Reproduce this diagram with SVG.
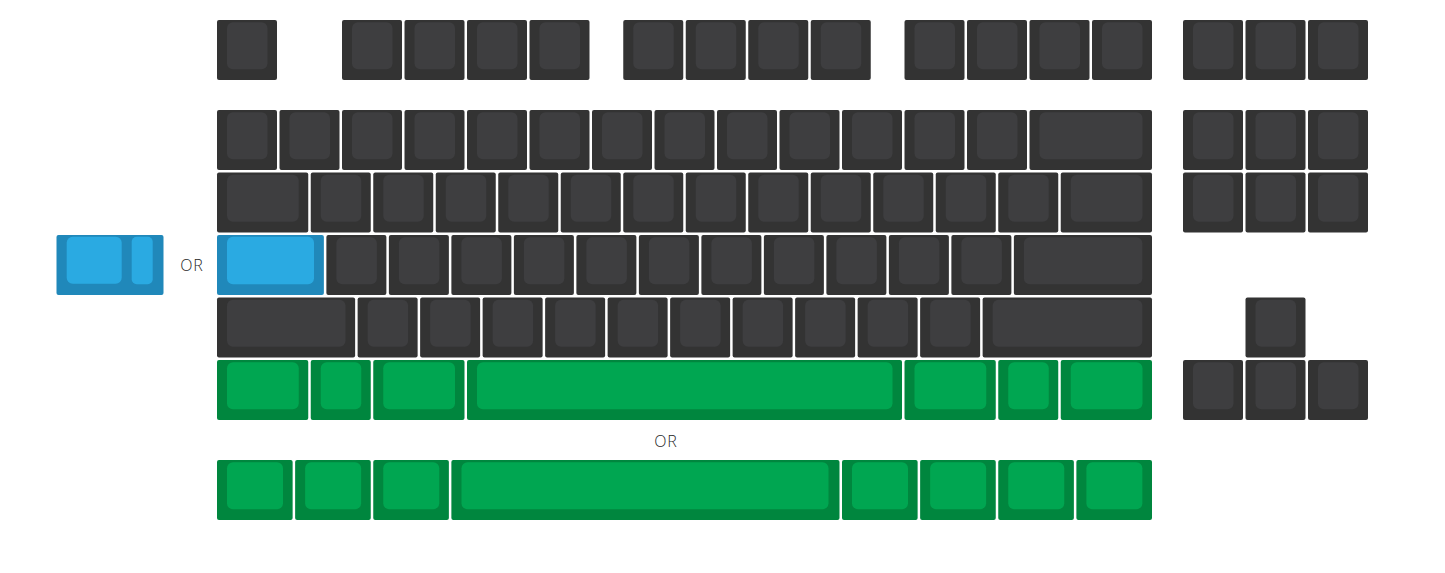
<svg xmlns="http://www.w3.org/2000/svg" width="1445" height="573" viewBox="0 0 1445 573">
<style>
.o{stroke:none}
.dk .o{fill:#333333}
.dk .i{fill:#3e3e40}
.bl .o{fill:#2088ba}
.bl .i{fill:#2aaae2}
.gr .o{fill:#00863e}
.gr .i{fill:#00a651}
.or{font-family:"Open Sans","Liberation Sans",sans-serif;font-weight:300;font-size:16px;fill:#1f1f1f;text-anchor:middle;letter-spacing:1px}
</style>
<rect width="1445" height="573" fill="#ffffff"/>
<g id="connectors"></g>

<!-- Function row -->
<g id="key-esc" class="dk"><rect class="o" x="217" y="20" width="60" height="60" rx="2"/><rect class="i" x="227" y="22.3" width="40.5" height="47" rx="6"/></g>
<g id="key-f1" class="dk"><rect class="o" x="342" y="20" width="60" height="60" rx="2"/><rect class="i" x="352" y="22.3" width="40.5" height="47" rx="6"/></g>
<g id="key-f2" class="dk"><rect class="o" x="404.5" y="20" width="60" height="60" rx="2"/><rect class="i" x="414.5" y="22.3" width="40.5" height="47" rx="6"/></g>
<g id="key-f3" class="dk"><rect class="o" x="467" y="20" width="60" height="60" rx="2"/><rect class="i" x="477" y="22.3" width="40.5" height="47" rx="6"/></g>
<g id="key-f4" class="dk"><rect class="o" x="529.5" y="20" width="60" height="60" rx="2"/><rect class="i" x="539.5" y="22.3" width="40.5" height="47" rx="6"/></g>
<g id="key-f5" class="dk"><rect class="o" x="623.25" y="20" width="60" height="60" rx="2"/><rect class="i" x="633.25" y="22.3" width="40.5" height="47" rx="6"/></g>
<g id="key-f6" class="dk"><rect class="o" x="685.75" y="20" width="60" height="60" rx="2"/><rect class="i" x="695.75" y="22.3" width="40.5" height="47" rx="6"/></g>
<g id="key-f7" class="dk"><rect class="o" x="748.25" y="20" width="60" height="60" rx="2"/><rect class="i" x="758.25" y="22.3" width="40.5" height="47" rx="6"/></g>
<g id="key-f8" class="dk"><rect class="o" x="810.75" y="20" width="60" height="60" rx="2"/><rect class="i" x="820.75" y="22.3" width="40.5" height="47" rx="6"/></g>
<g id="key-f9" class="dk"><rect class="o" x="904.5" y="20" width="60" height="60" rx="2"/><rect class="i" x="914.5" y="22.3" width="40.5" height="47" rx="6"/></g>
<g id="key-f10" class="dk"><rect class="o" x="967" y="20" width="60" height="60" rx="2"/><rect class="i" x="977" y="22.3" width="40.5" height="47" rx="6"/></g>
<g id="key-f11" class="dk"><rect class="o" x="1029.5" y="20" width="60" height="60" rx="2"/><rect class="i" x="1039.5" y="22.3" width="40.5" height="47" rx="6"/></g>
<g id="key-f12" class="dk"><rect class="o" x="1092" y="20" width="60" height="60" rx="2"/><rect class="i" x="1102" y="22.3" width="40.5" height="47" rx="6"/></g>
<g id="key-prtsc" class="dk"><rect class="o" x="1183" y="20" width="60" height="60" rx="2"/><rect class="i" x="1193" y="22.3" width="40.5" height="47" rx="6"/></g>
<g id="key-scrlk" class="dk"><rect class="o" x="1245.5" y="20" width="60" height="60" rx="2"/><rect class="i" x="1255.5" y="22.3" width="40.5" height="47" rx="6"/></g>
<g id="key-pause" class="dk"><rect class="o" x="1308" y="20" width="60" height="60" rx="2"/><rect class="i" x="1318" y="22.3" width="40.5" height="47" rx="6"/></g>

<!-- Number row -->
<g id="key-grave" class="dk"><rect class="o" x="217" y="110" width="60" height="60" rx="2"/><rect class="i" x="227" y="112.3" width="40.5" height="47" rx="6"/></g>
<g id="key-1" class="dk"><rect class="o" x="279.5" y="110" width="60" height="60" rx="2"/><rect class="i" x="289.5" y="112.3" width="40.5" height="47" rx="6"/></g>
<g id="key-2" class="dk"><rect class="o" x="342" y="110" width="60" height="60" rx="2"/><rect class="i" x="352" y="112.3" width="40.5" height="47" rx="6"/></g>
<g id="key-3" class="dk"><rect class="o" x="404.5" y="110" width="60" height="60" rx="2"/><rect class="i" x="414.5" y="112.3" width="40.5" height="47" rx="6"/></g>
<g id="key-4" class="dk"><rect class="o" x="467" y="110" width="60" height="60" rx="2"/><rect class="i" x="477" y="112.3" width="40.5" height="47" rx="6"/></g>
<g id="key-5" class="dk"><rect class="o" x="529.5" y="110" width="60" height="60" rx="2"/><rect class="i" x="539.5" y="112.3" width="40.5" height="47" rx="6"/></g>
<g id="key-6" class="dk"><rect class="o" x="592" y="110" width="60" height="60" rx="2"/><rect class="i" x="602" y="112.3" width="40.5" height="47" rx="6"/></g>
<g id="key-7" class="dk"><rect class="o" x="654.5" y="110" width="60" height="60" rx="2"/><rect class="i" x="664.5" y="112.3" width="40.5" height="47" rx="6"/></g>
<g id="key-8" class="dk"><rect class="o" x="717" y="110" width="60" height="60" rx="2"/><rect class="i" x="727" y="112.3" width="40.5" height="47" rx="6"/></g>
<g id="key-9" class="dk"><rect class="o" x="779.5" y="110" width="60" height="60" rx="2"/><rect class="i" x="789.5" y="112.3" width="40.5" height="47" rx="6"/></g>
<g id="key-0" class="dk"><rect class="o" x="842" y="110" width="60" height="60" rx="2"/><rect class="i" x="852" y="112.3" width="40.5" height="47" rx="6"/></g>
<g id="key-minus" class="dk"><rect class="o" x="904.5" y="110" width="60" height="60" rx="2"/><rect class="i" x="914.5" y="112.3" width="40.5" height="47" rx="6"/></g>
<g id="key-equal" class="dk"><rect class="o" x="967" y="110" width="60" height="60" rx="2"/><rect class="i" x="977" y="112.3" width="40.5" height="47" rx="6"/></g>
<g id="key-backspace" class="dk"><rect class="o" x="1029.5" y="110" width="122.5" height="60" rx="2"/><rect class="i" x="1039.5" y="112.3" width="103" height="47" rx="6"/></g>
<g id="key-ins" class="dk"><rect class="o" x="1183" y="110" width="60" height="60" rx="2"/><rect class="i" x="1193" y="112.3" width="40.5" height="47" rx="6"/></g>
<g id="key-home" class="dk"><rect class="o" x="1245.5" y="110" width="60" height="60" rx="2"/><rect class="i" x="1255.5" y="112.3" width="40.5" height="47" rx="6"/></g>
<g id="key-pgup" class="dk"><rect class="o" x="1308" y="110" width="60" height="60" rx="2"/><rect class="i" x="1318" y="112.3" width="40.5" height="47" rx="6"/></g>

<!-- Tab row -->
<g id="key-tab" class="dk"><rect class="o" x="217" y="172.5" width="91.25" height="60" rx="2"/><rect class="i" x="227" y="174.8" width="71.75" height="47" rx="6"/></g>
<g id="key-q" class="dk"><rect class="o" x="310.75" y="172.5" width="60" height="60" rx="2"/><rect class="i" x="320.75" y="174.8" width="40.5" height="47" rx="6"/></g>
<g id="key-w" class="dk"><rect class="o" x="373.25" y="172.5" width="60" height="60" rx="2"/><rect class="i" x="383.25" y="174.8" width="40.5" height="47" rx="6"/></g>
<g id="key-e" class="dk"><rect class="o" x="435.75" y="172.5" width="60" height="60" rx="2"/><rect class="i" x="445.75" y="174.8" width="40.5" height="47" rx="6"/></g>
<g id="key-r" class="dk"><rect class="o" x="498.25" y="172.5" width="60" height="60" rx="2"/><rect class="i" x="508.25" y="174.8" width="40.5" height="47" rx="6"/></g>
<g id="key-t" class="dk"><rect class="o" x="560.75" y="172.5" width="60" height="60" rx="2"/><rect class="i" x="570.75" y="174.8" width="40.5" height="47" rx="6"/></g>
<g id="key-y" class="dk"><rect class="o" x="623.25" y="172.5" width="60" height="60" rx="2"/><rect class="i" x="633.25" y="174.8" width="40.5" height="47" rx="6"/></g>
<g id="key-u" class="dk"><rect class="o" x="685.75" y="172.5" width="60" height="60" rx="2"/><rect class="i" x="695.75" y="174.8" width="40.5" height="47" rx="6"/></g>
<g id="key-i" class="dk"><rect class="o" x="748.25" y="172.5" width="60" height="60" rx="2"/><rect class="i" x="758.25" y="174.8" width="40.5" height="47" rx="6"/></g>
<g id="key-o" class="dk"><rect class="o" x="810.75" y="172.5" width="60" height="60" rx="2"/><rect class="i" x="820.75" y="174.8" width="40.5" height="47" rx="6"/></g>
<g id="key-p" class="dk"><rect class="o" x="873.25" y="172.5" width="60" height="60" rx="2"/><rect class="i" x="883.25" y="174.8" width="40.5" height="47" rx="6"/></g>
<g id="key-lbracket" class="dk"><rect class="o" x="935.75" y="172.5" width="60" height="60" rx="2"/><rect class="i" x="945.75" y="174.8" width="40.5" height="47" rx="6"/></g>
<g id="key-rbracket" class="dk"><rect class="o" x="998.25" y="172.5" width="60" height="60" rx="2"/><rect class="i" x="1008.25" y="174.8" width="40.5" height="47" rx="6"/></g>
<g id="key-backslash" class="dk"><rect class="o" x="1060.75" y="172.5" width="91.25" height="60" rx="2"/><rect class="i" x="1070.75" y="174.8" width="71.75" height="47" rx="6"/></g>
<g id="key-del" class="dk"><rect class="o" x="1183" y="172.5" width="60" height="60" rx="2"/><rect class="i" x="1193" y="174.8" width="40.5" height="47" rx="6"/></g>
<g id="key-end" class="dk"><rect class="o" x="1245.5" y="172.5" width="60" height="60" rx="2"/><rect class="i" x="1255.5" y="174.8" width="40.5" height="47" rx="6"/></g>
<g id="key-pgdn" class="dk"><rect class="o" x="1308" y="172.5" width="60" height="60" rx="2"/><rect class="i" x="1318" y="174.8" width="40.5" height="47" rx="6"/></g>

<!-- Caps row -->
<g id="key-caps-stepped" class="bl"><rect class="o" x="56.5" y="235" width="107" height="60" rx="2"/><rect class="i" x="66.7" y="236.7" width="55" height="47" rx="6"/><rect class="i" x="131.7" y="236.7" width="21" height="47.5" rx="5"/></g>
<text id="label-or-caps" class="or" x="192" y="270.5">OR</text>
<g id="key-caps" class="bl"><rect class="o" x="217" y="235" width="106.875" height="60" rx="2"/><rect class="i" x="227" y="236.8" width="87" height="47.5" rx="6"/></g>
<g id="key-a" class="dk"><rect class="o" x="326.375" y="235" width="60" height="60" rx="2"/><rect class="i" x="336.375" y="237.3" width="40.5" height="47" rx="6"/></g>
<g id="key-s" class="dk"><rect class="o" x="388.875" y="235" width="60" height="60" rx="2"/><rect class="i" x="398.875" y="237.3" width="40.5" height="47" rx="6"/></g>
<g id="key-d" class="dk"><rect class="o" x="451.375" y="235" width="60" height="60" rx="2"/><rect class="i" x="461.375" y="237.3" width="40.5" height="47" rx="6"/></g>
<g id="key-f" class="dk"><rect class="o" x="513.875" y="235" width="60" height="60" rx="2"/><rect class="i" x="523.875" y="237.3" width="40.5" height="47" rx="6"/></g>
<g id="key-g" class="dk"><rect class="o" x="576.375" y="235" width="60" height="60" rx="2"/><rect class="i" x="586.375" y="237.3" width="40.5" height="47" rx="6"/></g>
<g id="key-h" class="dk"><rect class="o" x="638.875" y="235" width="60" height="60" rx="2"/><rect class="i" x="648.875" y="237.3" width="40.5" height="47" rx="6"/></g>
<g id="key-j" class="dk"><rect class="o" x="701.375" y="235" width="60" height="60" rx="2"/><rect class="i" x="711.375" y="237.3" width="40.5" height="47" rx="6"/></g>
<g id="key-k" class="dk"><rect class="o" x="763.875" y="235" width="60" height="60" rx="2"/><rect class="i" x="773.875" y="237.3" width="40.5" height="47" rx="6"/></g>
<g id="key-l" class="dk"><rect class="o" x="826.375" y="235" width="60" height="60" rx="2"/><rect class="i" x="836.375" y="237.3" width="40.5" height="47" rx="6"/></g>
<g id="key-semicolon" class="dk"><rect class="o" x="888.875" y="235" width="60" height="60" rx="2"/><rect class="i" x="898.875" y="237.3" width="40.5" height="47" rx="6"/></g>
<g id="key-quote" class="dk"><rect class="o" x="951.375" y="235" width="60" height="60" rx="2"/><rect class="i" x="961.375" y="237.3" width="40.5" height="47" rx="6"/></g>
<g id="key-enter" class="dk"><rect class="o" x="1013.875" y="235" width="138.125" height="60" rx="2"/><rect class="i" x="1023.875" y="237.3" width="118.5" height="47" rx="6"/></g>

<!-- Shift row -->
<g id="key-lshift" class="dk"><rect class="o" x="217" y="297.5" width="138.125" height="60" rx="2"/><rect class="i" x="227" y="299.8" width="118.5" height="47" rx="6"/></g>
<g id="key-z" class="dk"><rect class="o" x="357.625" y="297.5" width="60" height="60" rx="2"/><rect class="i" x="367.625" y="299.8" width="40.5" height="47" rx="6"/></g>
<g id="key-x" class="dk"><rect class="o" x="420.125" y="297.5" width="60" height="60" rx="2"/><rect class="i" x="430.125" y="299.8" width="40.5" height="47" rx="6"/></g>
<g id="key-c" class="dk"><rect class="o" x="482.625" y="297.5" width="60" height="60" rx="2"/><rect class="i" x="492.625" y="299.8" width="40.5" height="47" rx="6"/></g>
<g id="key-v" class="dk"><rect class="o" x="545.125" y="297.5" width="60" height="60" rx="2"/><rect class="i" x="555.125" y="299.8" width="40.5" height="47" rx="6"/></g>
<g id="key-b" class="dk"><rect class="o" x="607.625" y="297.5" width="60" height="60" rx="2"/><rect class="i" x="617.625" y="299.8" width="40.5" height="47" rx="6"/></g>
<g id="key-n" class="dk"><rect class="o" x="670.125" y="297.5" width="60" height="60" rx="2"/><rect class="i" x="680.125" y="299.8" width="40.5" height="47" rx="6"/></g>
<g id="key-m" class="dk"><rect class="o" x="732.625" y="297.5" width="60" height="60" rx="2"/><rect class="i" x="742.625" y="299.8" width="40.5" height="47" rx="6"/></g>
<g id="key-comma" class="dk"><rect class="o" x="795.125" y="297.5" width="60" height="60" rx="2"/><rect class="i" x="805.125" y="299.8" width="40.5" height="47" rx="6"/></g>
<g id="key-period" class="dk"><rect class="o" x="857.625" y="297.5" width="60" height="60" rx="2"/><rect class="i" x="867.625" y="299.8" width="40.5" height="47" rx="6"/></g>
<g id="key-slash" class="dk"><rect class="o" x="920.125" y="297.5" width="60" height="60" rx="2"/><rect class="i" x="930.125" y="299.8" width="40.5" height="47" rx="6"/></g>
<g id="key-rshift" class="dk"><rect class="o" x="982.625" y="297.5" width="169.375" height="60" rx="2"/><rect class="i" x="992.625" y="299.8" width="149.75" height="47" rx="6"/></g>
<g id="key-up" class="dk"><rect class="o" x="1245.5" y="297.5" width="60" height="60" rx="2"/><rect class="i" x="1255.5" y="299.8" width="40.5" height="47" rx="6"/></g>

<!-- Bottom row (green) -->
<g id="key-lctrl" class="gr"><rect class="o" x="217" y="360" width="91.25" height="60" rx="2"/><rect class="i" x="227" y="362.3" width="71.75" height="47" rx="6"/></g>
<g id="key-lwin" class="gr"><rect class="o" x="310.75" y="360" width="60" height="60" rx="2"/><rect class="i" x="320.75" y="362.3" width="40.5" height="47" rx="6"/></g>
<g id="key-lalt" class="gr"><rect class="o" x="373.25" y="360" width="91.25" height="60" rx="2"/><rect class="i" x="383.25" y="362.3" width="71.75" height="47" rx="6"/></g>
<g id="key-space-7u" class="gr"><rect class="o" x="467" y="360" width="435" height="60" rx="2"/><rect class="i" x="477" y="362.3" width="415.5" height="47" rx="6"/></g>
<g id="key-ralt" class="gr"><rect class="o" x="904.5" y="360" width="91.25" height="60" rx="2"/><rect class="i" x="914.5" y="362.3" width="71.75" height="47" rx="6"/></g>
<g id="key-rwin" class="gr"><rect class="o" x="998.25" y="360" width="60" height="60" rx="2"/><rect class="i" x="1008.25" y="362.3" width="40.5" height="47" rx="6"/></g>
<g id="key-rctrl" class="gr"><rect class="o" x="1060.75" y="360" width="91.25" height="60" rx="2"/><rect class="i" x="1070.75" y="362.3" width="71.75" height="47" rx="6"/></g>
<g id="key-left" class="dk"><rect class="o" x="1183" y="360" width="60" height="60" rx="2"/><rect class="i" x="1193" y="362.3" width="40.5" height="47" rx="6"/></g>
<g id="key-down" class="dk"><rect class="o" x="1245.5" y="360" width="60" height="60" rx="2"/><rect class="i" x="1255.5" y="362.3" width="40.5" height="47" rx="6"/></g>
<g id="key-right" class="dk"><rect class="o" x="1308" y="360" width="60" height="60" rx="2"/><rect class="i" x="1318" y="362.3" width="40.5" height="47" rx="6"/></g>

<text id="label-or-bottom" class="or" x="666" y="447">OR</text>

<!-- Alternate bottom row (green) -->
<g id="alt-lctrl" class="gr"><rect class="o" x="217" y="460" width="75.625" height="60" rx="2"/><rect class="i" x="227" y="462.3" width="56" height="47" rx="6"/></g>
<g id="alt-lwin" class="gr"><rect class="o" x="295.125" y="460" width="75.625" height="60" rx="2"/><rect class="i" x="305.125" y="462.3" width="56" height="47" rx="6"/></g>
<g id="alt-lalt" class="gr"><rect class="o" x="373.25" y="460" width="75.625" height="60" rx="2"/><rect class="i" x="383.25" y="462.3" width="56" height="47" rx="6"/></g>
<g id="alt-space" class="gr"><rect class="o" x="451.375" y="460" width="388.125" height="60" rx="2"/><rect class="i" x="461.5" y="462.3" width="367" height="47" rx="6"/></g>
<g id="alt-ralt" class="gr"><rect class="o" x="842" y="460" width="75.625" height="60" rx="2"/><rect class="i" x="852" y="462.3" width="56" height="47" rx="6"/></g>
<g id="alt-fn" class="gr"><rect class="o" x="920.125" y="460" width="75.625" height="60" rx="2"/><rect class="i" x="930.125" y="462.3" width="56" height="47" rx="6"/></g>
<g id="alt-menu" class="gr"><rect class="o" x="998.25" y="460" width="75.625" height="60" rx="2"/><rect class="i" x="1008.25" y="462.3" width="56" height="47" rx="6"/></g>
<g id="alt-rctrl" class="gr"><rect class="o" x="1076.375" y="460" width="75.625" height="60" rx="2"/><rect class="i" x="1086.375" y="462.3" width="56" height="47" rx="6"/></g>
</svg>
